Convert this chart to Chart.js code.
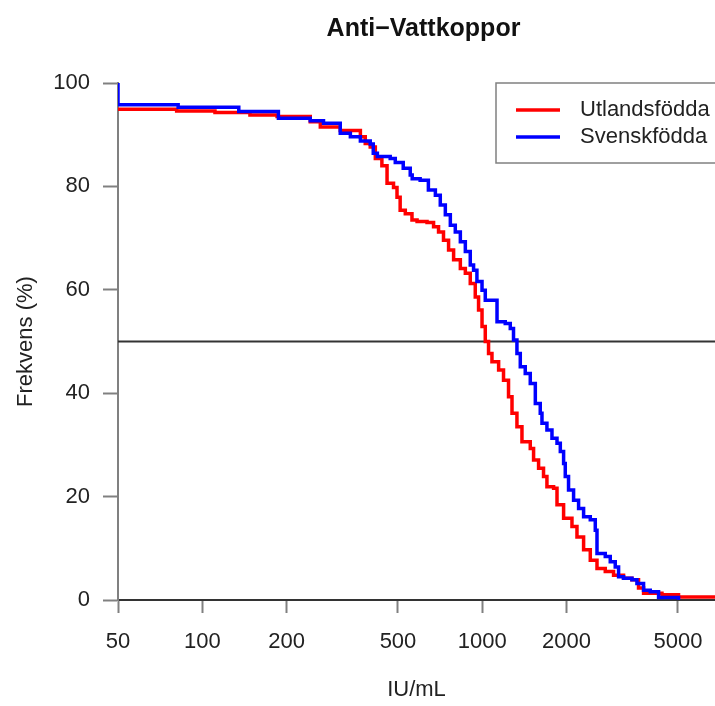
<!DOCTYPE html>
<html><head><meta charset="utf-8">
<script src="https://cdn.jsdelivr.net/npm/chart.js@4.4.0/dist/chart.umd.min.js"></script>
<style>html,body{margin:0;padding:0;background:#fff}canvas{display:block}</style>
</head><body>
<canvas id="c" width="715" height="706"></canvas>
<script>
const chartTitle = "Anti\u2212Vattkoppor";
const xTitle = "IU/mL";
const yTitle = "Frekvens (%)";
const seriesNames = ["Utlandsfödda", "Svenskfödda"];
const seriesColors = ["#ff0000", "#0000ff"];
const xTicks = [50, 100, 200, 500, 1000, 2000, 5000];
const yTicks = [0, 20, 40, 60, 80, 100];
const xRange = [50, 6780];
const yRange = [0, 100];
const refLine = 50;

const redX = [50, 81, 111, 148, 185, 243, 264, 311, 367, 382, 398, 415, 438, 457, 482, 496, 509, 531, 561, 585, 635, 670, 698, 727, 758, 790, 835, 870, 906, 944, 970, 998, 1025, 1053, 1083, 1144, 1191, 1241, 1277, 1330, 1386, 1484, 1525, 1589, 1655, 1702, 1798, 1849, 1952, 2091, 2179, 2301, 2431, 2569, 2750, 2944, 3196, 3424, 3615, 3768, 4383, 5023, 7000];
const redY = [94.9, 94.6, 94.3, 93.8, 93.5, 92.5, 91.5, 90.8, 89.6, 88.3, 87.6, 85.4, 84.0, 80.6, 79.8, 77.9, 75.4, 74.7, 73.5, 73.2, 73.0, 72.2, 71.2, 69.6, 67.7, 65.8, 64.1, 63.2, 61.2, 58.6, 56.1, 52.9, 50.0, 47.7, 46.1, 44.5, 42.5, 39.3, 36.1, 33.5, 30.6, 29.3, 27.1, 25.5, 23.9, 21.9, 21.6, 18.4, 15.8, 14.2, 12.2, 9.7, 7.7, 6.1, 5.5, 4.8, 4.2, 3.9, 2.3, 1.3, 1.0, 0.6, 0.6];

const blueX = [50, 50, 82, 135, 187, 243, 271, 311, 338, 367, 398, 408, 422, 469, 489, 522, 553, 562, 600, 642, 680, 708, 738, 769, 801, 835, 870, 906, 931, 957, 998, 1025, 1129, 1208, 1259, 1293, 1330, 1367, 1424, 1484, 1547, 1611, 1634, 1702, 1774, 1849, 1900, 1952, 1979, 2033, 2119, 2208, 2301, 2431, 2533, 2569, 2750, 2865, 2985, 3068, 3196, 3424, 3568, 3768, 3981, 4263, 5023];
const blueY = [100, 95.8, 95.3, 94.5, 93.2, 92.7, 92.2, 90.3, 89.6, 88.8, 88.2, 86.4, 85.8, 85.4, 84.6, 83.5, 82.2, 81.5, 81.2, 79.3, 78.3, 76.4, 74.5, 72.5, 71.2, 69.3, 67.4, 64.8, 63.8, 61.6, 59.9, 58.0, 53.8, 53.5, 52.5, 50.3, 47.7, 45.1, 43.8, 41.9, 38.0, 36.1, 34.2, 32.9, 31.3, 30.3, 28.7, 26.4, 23.9, 21.3, 19.3, 17.7, 16.1, 15.5, 13.5, 9.0, 8.4, 7.4, 6.4, 4.5, 4.2, 3.9, 3.2, 1.9, 1.6, 0.5, 0];

const FONT = "'Liberation Sans', Arial, Helvetica, sans-serif";
Chart.defaults.font.family = FONT;
Chart.defaults.color = '#222';

const toXY = (xs, ys) => xs.map((x, i) => ({x: x, y: ys[i]}));

const plotTitle = {
  id: 'plotTitle',
  afterDraw(chart) {
    const {ctx, chartArea: a} = chart;
    ctx.save();
    ctx.font = "bold 25px " + FONT;
    ctx.fillStyle = '#111';
    ctx.textAlign = 'center';
    ctx.textBaseline = 'alphabetic';
    ctx.fillText(chartTitle, (a.left + a.right) / 2 + 7, a.top - 47);
    ctx.restore();
  }
};

const boxLegend = {
  id: 'boxLegend',
  afterDraw(chart) {
    const {ctx, chartArea: a} = chart;
    const left = a.right - 219, top = a.top;
    ctx.save();
    ctx.strokeStyle = '#808080';
    ctx.lineWidth = 1.5;
    ctx.strokeRect(left, top, 260, 80);
    ctx.font = "22px " + FONT;
    ctx.textBaseline = 'middle';
    ctx.textAlign = 'left';
    for (let i = 0; i < seriesNames.length; i++) {
      const y = top + 27 + i * 27;
      ctx.strokeStyle = seriesColors[i];
      ctx.lineWidth = 3.5;
      ctx.beginPath();
      ctx.moveTo(left + 20, y);
      ctx.lineTo(left + 64, y);
      ctx.stroke();
      ctx.fillStyle = '#222';
      ctx.fillText(seriesNames[i], left + 84, y);
    }
    ctx.restore();
  }
};

new Chart(document.getElementById('c'), {
  type: 'line',
  data: {
    datasets: [
      {label: seriesNames[0], data: toXY(redX, redY), borderColor: seriesColors[0], borderWidth: 3.5, stepped: true, pointRadius: 0, fill: false, order: 1},
      {label: seriesNames[1], data: toXY(blueX, blueY), borderColor: seriesColors[1], borderWidth: 3.5, stepped: true, pointRadius: 0, fill: false, order: 0},
      {label: 'ref', data: [{x: xRange[0], y: refLine}, {x: 8000, y: refLine}], borderColor: '#333', borderWidth: 2, pointRadius: 0, fill: false, order: 2}
    ]
  },
  options: {
    responsive: false,
    animation: false,
    devicePixelRatio: 1,
    events: [],
    layout: {padding: {top: 83, left: 0, right: 0, bottom: 0}},
    plugins: {
      legend: {display: false},
      tooltip: {enabled: false},
      title: {display: false}
    },
    scales: {
      x: {
        type: 'logarithmic', min: xRange[0], max: xRange[1],
        afterBuildTicks(s) { s.ticks = xTicks.map(v => ({value: v})); },
        afterFit(s) { s.height = 106; s.paddingRight = 0; s.paddingLeft = 0; },
        ticks: {font: {size: 22}, padding: 16, maxRotation: 0, autoSkip: false, callback: v => String(v)},
        grid: {drawOnChartArea: false, drawTicks: true, tickLength: 13, tickWidth: 2, tickColor: '#808080'},
        border: {display: true, color: '#333', width: 2},
        title: {display: true, text: xTitle, font: {size: 22}, padding: {top: 0, bottom: 3}}
      },
      y: {
        type: 'linear', min: yRange[0], max: yRange[1],
        afterBuildTicks(s) { s.ticks = yTicks.map(v => ({value: v})); },
        afterFit(s) { s.width = 118; },
        ticks: {font: {size: 22}, padding: 13, callback: v => String(v)},
        grid: {drawOnChartArea: false, drawTicks: true, tickLength: 15, tickWidth: 2, tickColor: '#808080'},
        border: {display: true, color: '#808080', width: 2},
        title: {display: true, text: yTitle, font: {size: 22}, padding: {top: 13, bottom: 0}}
      }
    }
  },
  plugins: [plotTitle, boxLegend]
});
</script>
</body></html>
